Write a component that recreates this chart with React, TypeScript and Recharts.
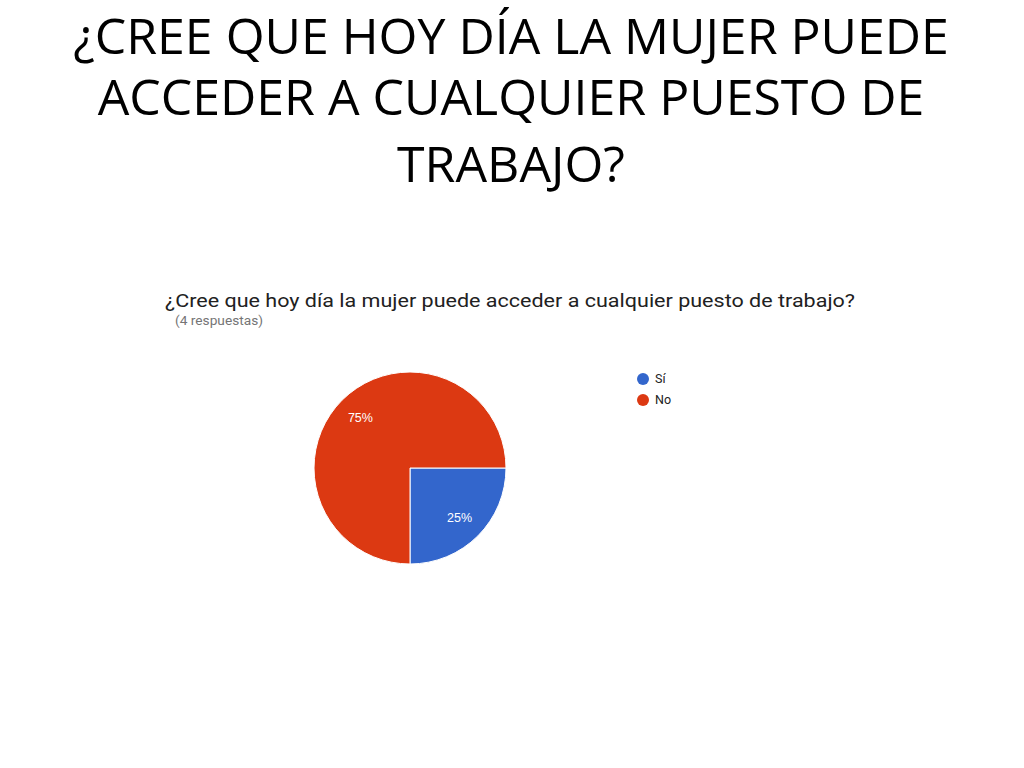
import React from 'react';
import { PieChart, Pie, Cell } from 'recharts';

// Diapositiva: encuesta de Google Forms
const TITLE_LINES = ['¿CREE QUE HOY DÍA LA MUJER PUEDE', 'ACCEDER A CUALQUIER PUESTO DE', 'TRABAJO?'];
const CHART_TITLE = '¿Cree que hoy día la mujer puede acceder a cualquier puesto de trabajo?';
const CHART_SUBTITLE = '(4 respuestas)';

const categories = ['Sí', 'No'];
const values = [1, 3];
const colors = ['#3366CC', '#DC3912'];

const data = categories.map((name, i) => ({ name, value: values[i] }));

const RADIAN = Math.PI / 180;

// posición superior de cada línea del título
const TITLE_TOPS = [0.5, 62, 128.5];

const renderLabel = (props: any) => {
  const { cx, cy, midAngle, outerRadius, percent } = props;
  const r = outerRadius * 0.73;
  const x = cx + r * Math.cos(-midAngle * RADIAN);
  const y = cy + r * Math.sin(-midAngle * RADIAN);
  return (
    <text x={x} y={y} fill="#fff" textAnchor="middle" dominantBaseline="central" fontSize={12.5} fontFamily="Arial, 'Liberation Sans', sans-serif">
      {`${Math.round(percent * 100)}%`}
    </text>
  );
};

export default function App() {
  return (
    <div style={{ position: 'fixed', left: 0, top: 0, width: 1024, height: 768, background: '#fff' }}>
      {/* Título de la diapositiva */}
      {TITLE_LINES.map((line, i) => (
        <div
          key={i}
          style={{
            position: 'absolute',
            left: 0,
            width: 1022,
            top: TITLE_TOPS[i],
            textAlign: 'center',
            whiteSpace: 'nowrap',
            fontFamily: "'Open Sans', sans-serif",
            fontSize: 50,
            lineHeight: '68px',
            color: '#000',
          }}
        >
          {line}
        </div>
      ))}

      {/* Encabezado del gráfico */}
      <svg width={1024} height={60} style={{ position: 'absolute', left: 0, top: 280 }}>
        <text x={165} y={27} fontSize={19} fontFamily="Roboto, sans-serif" fill="#212121" textLength={690} lengthAdjust="spacingAndGlyphs">
          {CHART_TITLE}
        </text>
        <text x={175} y={45} fontSize={12} fontFamily="Roboto, sans-serif" fill="#757575" textLength={88} lengthAdjust="spacingAndGlyphs">
          {CHART_SUBTITLE}
        </text>
      </svg>

      <div style={{ position: 'absolute', left: 305, top: 363 }}>
        <PieChart width={210} height={210}>
          <Pie
            data={data}
            dataKey="value"
            nameKey="name"
            cx={100}
            cy={100}
            outerRadius={96}
            startAngle={0}
            endAngle={-360}
            stroke="#fff"
            strokeWidth={1}
            label={renderLabel}
            labelLine={false}
            isAnimationActive={false}
          >
            {data.map((d, i) => (
              <Cell key={d.name} fill={colors[i]} />
            ))}
          </Pie>
        </PieChart>
      </div>

      {/* Leyenda */}
      <div style={{ position: 'absolute', left: 637, top: 368, fontFamily: 'Roboto, sans-serif', fontSize: 12.5, color: '#222' }}>
        {data.map((d, i) => (
          <div key={d.name} style={{ display: 'flex', alignItems: 'center', height: 21 }}>
            <span style={{ width: 12, height: 12, borderRadius: 6, background: colors[i], marginRight: 6 }} />
            <span>{d.name}</span>
          </div>
        ))}
      </div>
    </div>
  );
}
